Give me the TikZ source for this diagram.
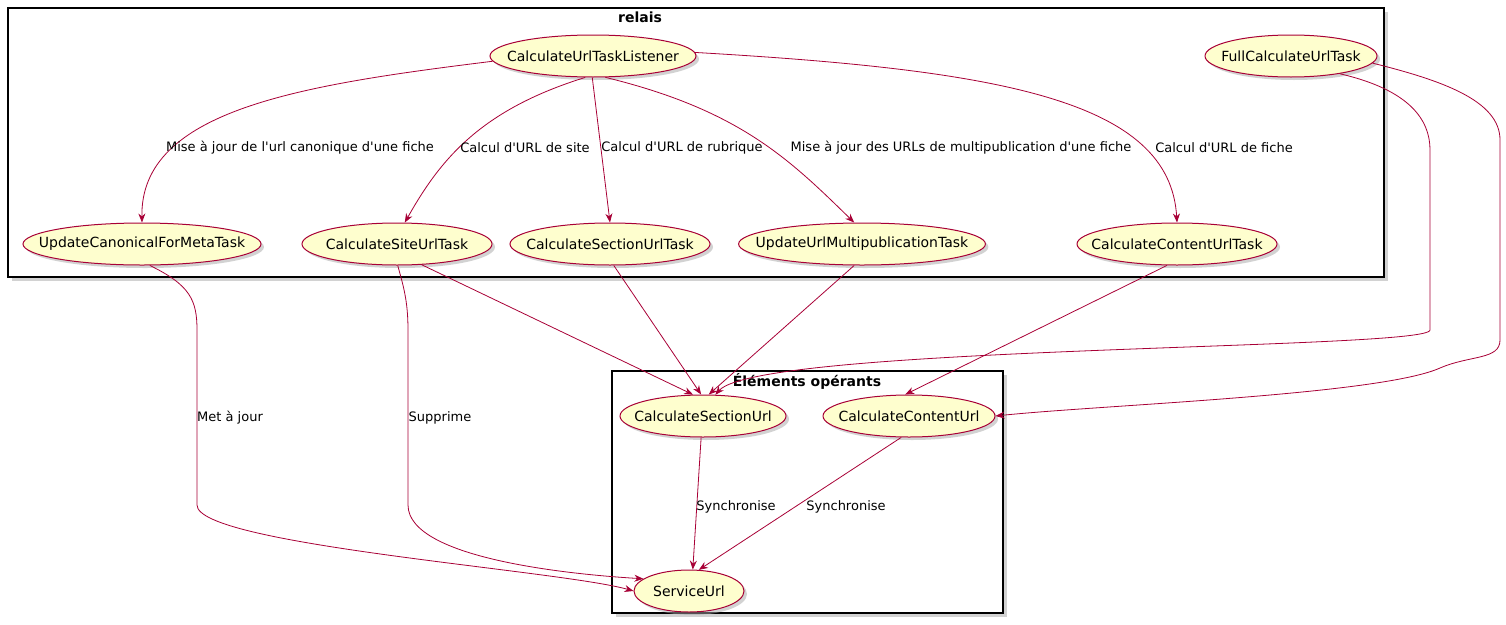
\documentclass[tikz,border=0pt]{standalone}
\usepackage{fontspec}
\setmainfont{DejaVu Sans}
\usetikzlibrary{shapes.geometric,arrows.meta,shadows}
\definecolor{uborder}{HTML}{A80036}
\definecolor{ufill}{HTML}{FEFECE}
\newcommand{\q}{\textquotesingle}
\begin{document}
\begin{tikzpicture}[x=1pt,y=-1pt,
  uc/.style={ellipse,draw=uborder,fill=ufill,line width=1pt,inner xsep=-19pt,inner ysep=0pt,minimum height=42pt,font=\fontsize{14}{16}\selectfont,drop shadow={shadow xshift=3pt,shadow yshift=-3pt,fill=black!35}},
  box/.style={draw=black,line width=1.3pt,fill=white,drop shadow={shadow xshift=4pt,shadow yshift=-4pt,fill=black!35}},
  ttl/.style={font=\fontsize{14}{16}\selectfont\bfseries},
  e/.style={draw=uborder,line width=0.8pt,-{Stealth[length=9pt,width=7pt]}},
  lb/.style={font=\fontsize{13}{15}\selectfont,inner sep=1pt}]
\useasboundingbox (0,0) rectangle (1506,624);
\path[box] (8,8) rectangle (1384,277);
\node[ttl] (t1) at (640,17) {relais};
\path[box] (612,371) rectangle (1003,613);
\node[ttl] (t2) at (807,381) {Éléments opérants};

\node[uc,minimum width=206pt] (L) at (593,56) {CalculateUrlTaskListener};
\node[uc,minimum width=172pt] (F) at (1291,56) {FullCalculateUrlTask};
\node[uc,minimum width=236pt] (UC) at (142,244) {UpdateCanonicalForMetaTask};
\node[uc,minimum width=190pt] (CS) at (397,244) {CalculateSiteUrlTask};
\node[uc,minimum width=200pt] (CSe) at (610,244) {CalculateSectionUrlTask};
\node[uc,minimum width=236pt] (UM) at (862,244) {UpdateUrlMultipublicationTask};
\node[uc,minimum width=200pt] (CC) at (1177,244) {CalculateContentUrlTask};
\node[uc,minimum width=166pt] (SU) at (703,416) {CalculateSectionUrl};
\node[uc,minimum width=172pt] (CU) at (909,416) {CalculateContentUrl};
\node[uc,minimum width=110pt] (S) at (689,591) {ServiceUrl};

\draw[e] (L.183) .. controls (300,85) and (140,110) .. (UC.north);
\draw[e] (L.250) .. controls (480,110) and (440,160) .. (CS.70);
\draw[e] (L.268) -- (CSe.90);
\draw[e] (L.300) .. controls (740,110) and (790,160) .. (UM.110);
\draw[e] (L.2) .. controls (1000,70) and (1170,100) .. (CC.north);
\node[lb] at (300,148) {Mise à jour de l\q url canonique d\q une fiche};
\node[lb] at (525,148) {Calcul d\q URL de site};
\node[lb] at (682,148) {Calcul d\q URL de rubrique};
\node[lb] at (961,148) {Mise à jour des URLs de multipublication d\q une fiche};
\node[lb] at (1224,148) {Calcul d\q URL de fiche};

\coordinate (f1) at (1430,150); \coordinate (f2) at (1430,330);
\draw[e] (F.-20) .. controls (1410,90) and (1430,120) .. (f1) -- (f2) .. controls (1430,350) and (760,345) .. (SU.60);
\coordinate (g1) at (1500,140); \coordinate (g2) at (1500,340);
\draw[e] (F.-5) .. controls (1440,80) and (1500,100) .. (g1) -- (g2) .. controls (1500,360) and (1470,355) .. (1440,368) .. controls (1380,395) and (1100,405) .. (CU.east);

\coordinate (u1) at (197,330); \coordinate (u2) at (197,505);
\draw[e] (UC.-70) .. controls (190,285) and (197,300) .. (u1) -- (u2) .. controls (197,545) and (560,570) .. (S.west);
\node[lb] at (230,418) {Met à jour};
\coordinate (s1) at (408,330); \coordinate (s2) at (408,505);
\draw[e] (CS.-88) .. controls (403,285) and (408,300) .. (s1) -- (s2) .. controls (408,560) and (580,575) .. (S.165);
\node[lb] at (440,418) {Supprime};

\draw[e] (CS.-40) -- (SU.115);
\draw[e] (CSe.-80) -- (SU.95);
\draw[e] (UM.-110) -- (SU.75);
\draw[e] (CC.-115) -- (CU.100);
\draw[e] (SU.-95) -- (S.80);
\node[lb] at (736,507) {Synchronise};
\draw[e] (CU.-110) -- (S.65);
\node[lb] at (846,507) {Synchronise};
\end{tikzpicture}
\end{document}
